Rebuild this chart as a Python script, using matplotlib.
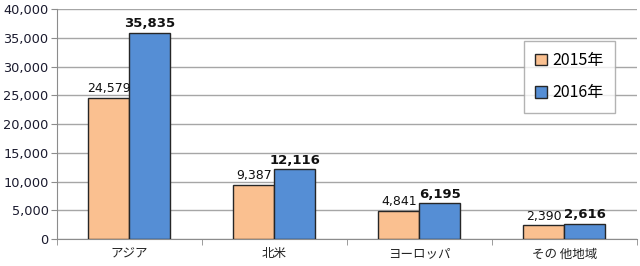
import numpy as np
from matplotlib import pyplot as plt

plt.rcParams['font.family'] = ['Noto Sans CJK JP', 'DejaVu Sans']

regions = ['アジア', '北米', 'ヨーロッパ', 'その 他地域']
sales_2015 = [24579, 9387, 4841, 2390]
sales_2016 = [35835, 12116, 6195, 2616]
series_names = ['2015年', '2016年']
yticks = [0, 5000, 10000, 15000, 20000, 25000, 30000, 35000, 40000]

fig = plt.figure(figsize=(6.4, 2.66), dpi=100)
ax = fig.add_axes([0.089, 0.101, 0.906, 0.865])

x = np.arange(len(regions))
w = 0.283
b1 = ax.bar(x - w / 2, sales_2015, w, color='#FAC090', edgecolor='#262626', linewidth=1.0,
            label=series_names[0], zorder=3)
b2 = ax.bar(x + w / 2, sales_2016, w, color='#558ED5', edgecolor='#262626', linewidth=1.0,
            label=series_names[1], zorder=3)

for rect, v in zip(b1, sales_2015):
    ax.text(rect.get_x() + rect.get_width() / 2, v + 500, f'{v:,}', ha='center', va='bottom',
            fontsize=9, color='#111111', family='DejaVu Sans')
for rect, v in zip(b2, sales_2016):
    ax.text(rect.get_x() + rect.get_width() / 2, v + 500, f'{v:,}', ha='center', va='bottom',
            fontsize=9.5, fontweight='bold', color='#111111', family='DejaVu Sans')

ax.set_xlim(-0.5, len(regions) - 0.5)
ax.set_ylim(0, 40000)
ax.set_yticks(yticks)
ax.set_yticklabels([f'{t:,}' for t in yticks], fontsize=9.3, color='#1a1a2e', family='DejaVu Sans')
ax.yaxis.grid(True, color='#a6a6a6', linewidth=1.0, zorder=0)

ax.set_xticks(x)
ax.set_xticklabels(regions, fontsize=9, color='#222222')
ax.set_xticks(np.arange(len(regions) + 1) - 0.5, minor=True)
ax.tick_params(axis='x', which='major', length=0, pad=6)
ax.tick_params(axis='x', which='minor', length=4, color='#8c8c8c', direction='out')
ax.tick_params(axis='y', length=4, color='#8c8c8c', pad=2)

for side in ['top', 'right']:
    ax.spines[side].set_visible(False)
for side in ['left', 'bottom']:
    ax.spines[side].set_color('#8c8c8c')

leg = ax.legend(loc='upper right', bbox_to_anchor=(0.962, 0.861), fontsize=11.5,
                frameon=True, fancybox=False, edgecolor='#a0a0a0', handlelength=0.75,
                handleheight=0.75, labelspacing=0.95, borderpad=0.7, handletextpad=0.3,
                borderaxespad=0.0)
leg.get_frame().set_linewidth(1.0)

fig.savefig('out.png', dpi=100)
